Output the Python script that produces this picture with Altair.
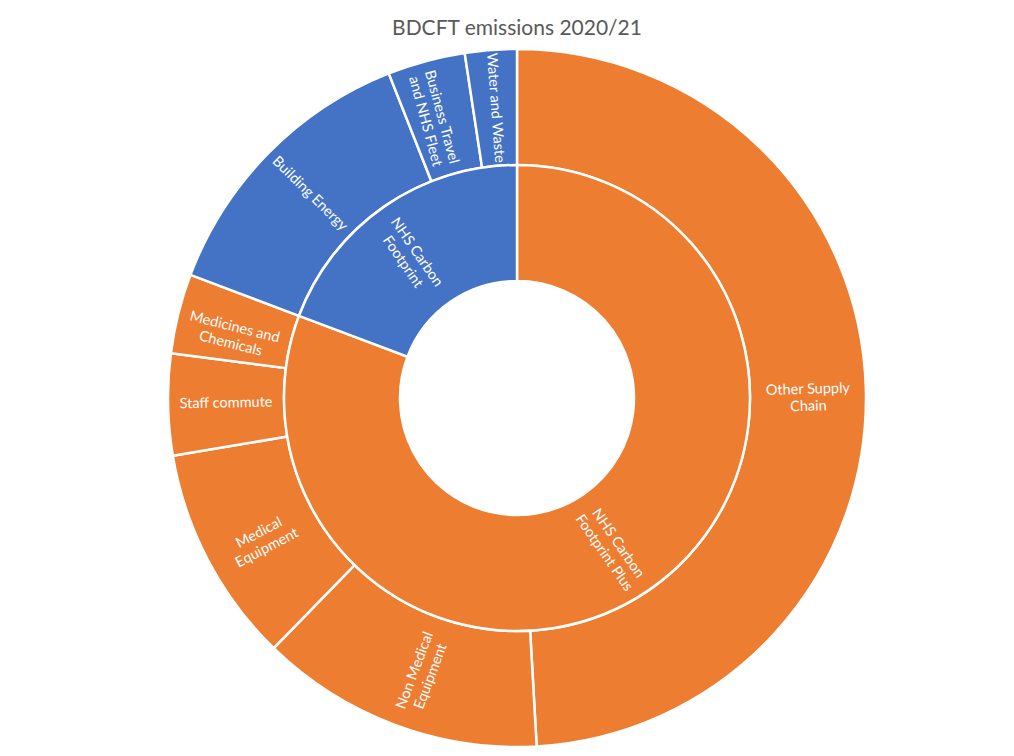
import altair as alt
import pandas as pd

# ---- data (shares of total, %) ----
categories = [
    "Other Supply Chain",
    "Non Medical Equipment",
    "Medical Equipment",
    "Staff commute",
    "Medicines and Chemicals",
    "Building Energy",
    "Business Travel and NHS Fleet",
    "Water and Waste",
]
labels = [
    "Other Supply\nChain",
    "Non Medical\nEquipment",
    "Medical\nEquipment",
    "Staff commute",
    "Medicines and\nChemicals",
    "Building Energy",
    "Business Travel\nand NHS Fleet",
    "Water and Waste",
]
parents = ["NHS Carbon Footprint Plus"] * 5 + ["NHS Carbon Footprint"] * 3
values = [49.2, 13.2, 10.1, 4.7, 3.7, 13.3, 3.6, 2.4]

parent_names = ["NHS Carbon Footprint Plus", "NHS Carbon Footprint"]
colors = ["#ED7D31", "#4472C4"]

df = pd.DataFrame({
    "category": categories,
    "label": labels,
    "parent": parents,
    "value": values,
    "ord": list(range(len(categories))),
})

FONT = "Lato"
CX, CY = 509, 345
R0, R1, R2 = 117, 233, 349

color = alt.Color("parent:N", scale=alt.Scale(domain=parent_names, range=colors), legend=None)
theta = alt.Theta("value:Q", stack=True)
order = alt.Order("ord:Q")


def with_rotation(ch):
    return (
        ch.transform_window(cum="sum(value)", sort=[alt.SortField("ord", order="ascending")])
        .transform_joinaggregate(total="sum(value)")
        .transform_calculate(mid="(datum.cum - datum.value / 2) / datum.total * 360")
        .transform_calculate(rot="((datum.mid < 180 ? datum.mid - 90 : datum.mid - 270) + 360) % 360")
    )


base = alt.Chart(df)
inner_base = base.transform_aggregate(
    value="sum(value)", ord="min(ord)", groupby=["parent"]
).transform_calculate(label="replace(datum.parent, 'Carbon ', 'Carbon\\n')")

outer = base.mark_arc(radius=R2, radius2=R1, stroke="white", strokeWidth=2.5).encode(
    theta=theta, order=order, color=color, x=alt.value(CX), y=alt.value(CY)
)
inner = inner_base.mark_arc(radius=R1, radius2=R0, stroke="white", strokeWidth=2.5).encode(
    theta=theta, order=order, color=color, x=alt.value(CX), y=alt.value(CY)
)

text_style = dict(font=FONT, fontSize=14.5, color="white", lineBreak="\n", lineHeight=17,
                  align="center", baseline="middle")

outer_text = with_rotation(base).mark_text(radius=(R1 + R2) / 2, **text_style).encode(
    theta=theta, order=order, text="label:N",
    angle=alt.Angle("rot:Q", scale=None), x=alt.value(CX), y=alt.value(CY)
)
inner_text = with_rotation(inner_base).mark_text(radius=(R0 + R1) / 2 + 2, **text_style).encode(
    theta=theta, order=order, text="label:N",
    angle=alt.Angle("rot:Q", scale=None), x=alt.value(CX), y=alt.value(CY)
)

chart = alt.layer(outer, inner, outer_text, inner_text).properties(
    width=998,
    height=695,
    padding={"left": 0, "top": 45, "right": 0, "bottom": 0},
    autosize=alt.AutoSizeParams(type="none"),
    background="white",
    title=alt.TitleParams(
        "BDCFT emissions 2020/21", font=FONT, fontSize=21, fontWeight="normal",
        color="#595959", offset=5, dx=10
    ),
).configure_view(stroke=None)

chart.save("out.html", embed_options={"renderer": "svg", "actions": False})
